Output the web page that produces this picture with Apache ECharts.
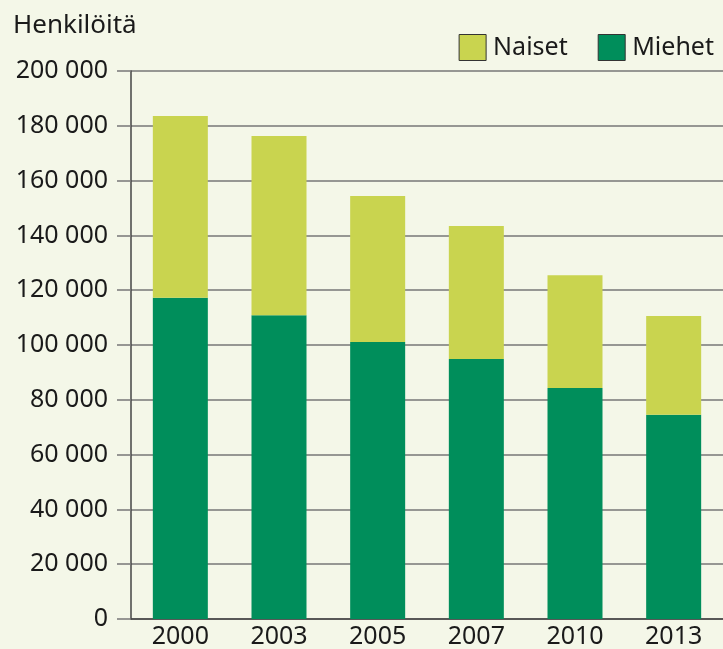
<!DOCTYPE html>
<html>
<head>
<meta charset="utf-8">
<script src="https://cdn.jsdelivr.net/npm/echarts@6/dist/echarts.min.js"></script>
<style>
  html, body { margin: 0; padding: 0; background: #f4f7e8; }
  #chart { width: 723px; height: 649px; }
</style>
</head>
<body>
<div id="chart"></div>
<script>
var years = ['2000', '2003', '2005', '2007', '2010', '2013'];
var miehet = [117200, 110900, 101100, 94900, 84300, 74500];
var naiset = [66400, 65400, 53300, 48500, 41200, 36100];

var font = 'Noto Sans';

function thousands(v) {
  return String(v).replace(/\B(?=(\d{3})+(?!\d))/g, ' ');
}

var myChart = echarts.init(document.getElementById('chart'));
var option = {
  backgroundColor: '#f4f7e8',
  textStyle: { fontFamily: font },
  title: {
    text: 'Henkilöitä',
    left: 8,
    top: 8,
    textStyle: { fontFamily: font, fontSize: 26, fontWeight: 'normal', color: '#1a1a1a' }
  },
  legend: {
    data: ['Naiset', 'Miehet'],
    right: 4,
    top: 29,
    icon: 'rect',
    itemWidth: 27,
    itemHeight: 26,
    itemGap: 30,
    itemStyle: { borderColor: '#333', borderWidth: 1 },
    textStyle: { fontFamily: font, fontSize: 25, color: '#1a1a1a', padding: [0, 0, 0, 2] }
  },
  grid: {
    left: 131,
    top: 71,
    width: 594,
    bottom: 30
  },
  xAxis: {
    type: 'category',
    data: years,
    axisLine: { lineStyle: { color: '#444', width: 1.5 } },
    axisTick: { show: false },
    axisLabel: { color: '#1a1a1a', fontSize: 25, fontFamily: font, margin: 5 }
  },
  yAxis: {
    type: 'value',
    min: 0,
    max: 200000,
    interval: 20000,
    axisLine: { show: true, lineStyle: { color: '#444', width: 1.5 } },
    axisTick: { show: true, length: 14, lineStyle: { color: '#777', width: 1.5 } },
    splitLine: { lineStyle: { color: '#777', width: 1.5 } },
    axisLabel: {
      color: '#1a1a1a',
      fontSize: 25,
      fontFamily: font,
      margin: 23,
      formatter: thousands
    }
  },
  series: [
    {
      name: 'Miehet',
      type: 'bar',
      stack: 'total',
      barWidth: 55,
      data: miehet,
      itemStyle: { color: '#008e5b' }
    },
    {
      name: 'Naiset',
      type: 'bar',
      stack: 'total',
      barWidth: 55,
      data: naiset,
      itemStyle: { color: '#c9d44f' }
    }
  ]
};
myChart.setOption(option);
</script>
</body>
</html>
